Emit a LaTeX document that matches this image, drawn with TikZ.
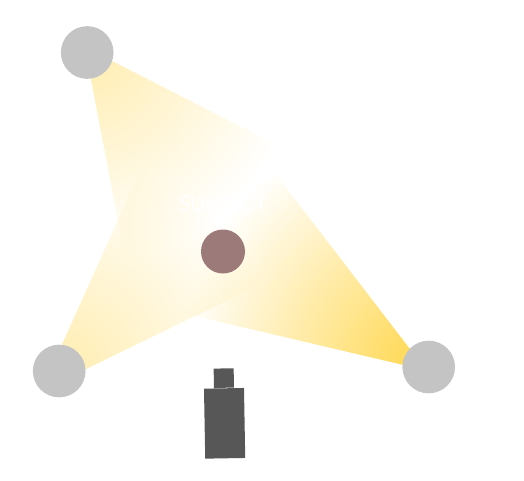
\documentclass[tikz,border=0pt]{standalone}
\usepackage{xcolor}
\usepackage{fontspec}
\usetikzlibrary{calc, positioning, backgrounds, fadings}
\newfontfamily\labelfont{Lato}
\definecolor{clamp}{HTML}{C4C4C4}
\definecolor{csubj}{HTML}{9D7A7A}
\definecolor{ccam}{HTML}{585757}
\definecolor{cfill}{HTML}{FFEDB0}
\definecolor{ckey}{HTML}{FFD64A}
\tikzfading[name=conefade, inner color=transparent!0, outer color=transparent!100]

\begin{document}
\begin{tikzpicture}[x=0.75pt, y=0.75pt]
    \useasboundingbox (0,0) rectangle (524,480);
    \begin{scope}[every node/.style={circle, fill=clamp, inner sep=0pt, minimum size=39.5pt}]
        \node (l1) at (87.2,427.5) {};
        \node (l2) at (59.2,109) {};
        \node (l3) at (428.7,113) {};
    \end{scope}
    \begin{scope}[on background layer]
        \foreach \lm/\pa/\da/\pb/\db/\rad/\col in {l1/-82/-79.2/-19.4/-27/210/cfill, l2/84.5/65.8/4.3/25.9/220/cfill, l3/136.1/127.5/175.7/166.8/250/ckey} {
            \begin{scope}
                \clip (\lm.center) -- (\lm.\pa) -- ++(\da:420) -- ($(\lm.\pb)+(\db:420)$) -- (\lm.\pb) -- cycle;
                \fill[\col, path fading=conefade] (\lm.center) circle (\rad);
            \end{scope}
        }
    \end{scope}
    \node (subj) [circle, fill=csubj, inner sep=0pt, minimum size=33pt] at (223,228.5) {};
    \node (subjtxt) [above=13pt of subj, inner sep=0pt, text=white, font=\labelfont\fontsize{16}{19}\selectfont] {SUBJECT};
    \node (cambody) [rectangle, fill=ccam, inner sep=0pt, minimum width=30pt, minimum height=52.5pt, rotate=1] at (224.6,56.7) {};
    \node (camtop) [rectangle, fill=ccam, inner sep=0pt, minimum width=15pt, minimum height=14.5pt, rotate=1, anchor=south] at (cambody.north) {};
\end{tikzpicture}
\end{document}
